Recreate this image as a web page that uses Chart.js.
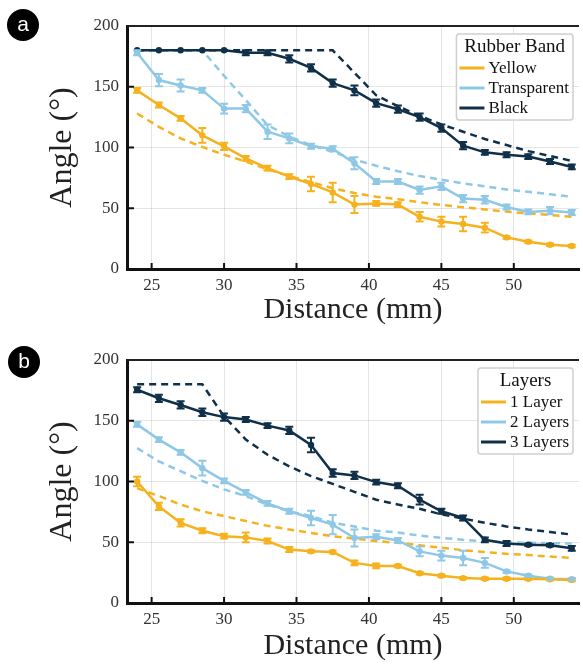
<!DOCTYPE html>
<html><head><meta charset="utf-8">
<script src="https://cdn.jsdelivr.net/npm/chart.js@4.4.0/dist/chart.umd.min.js"></script>
<style>
html,body{margin:0;padding:0;background:#fff;}
body{width:583px;height:664px;position:relative;overflow:hidden;}
#wrapA{position:absolute;left:0;top:0;width:583px;height:334px;}
#wrapB{position:absolute;left:0;top:334px;width:583px;height:330px;}
.badge{position:absolute;width:32px;height:32px;border-radius:50%;background:#000;color:#fff;font-family:"Liberation Sans",Arial,sans-serif;font-size:21px;line-height:30px;text-align:center;}
</style></head><body>
<div id="wrapA"><canvas id="cA" width="583" height="334"></canvas></div>
<div id="wrapB"><canvas id="cB" width="583" height="330"></canvas></div>
<div class="badge" style="left:7px;top:9px;">a</div>
<div class="badge" style="left:8px;top:346px;">b</div>
<script>
const distance = [24,25.5,27,28.5,30,31.5,33,34.5,36,37.5,39,40.5,42,43.5,45,46.5,48,49.5,51,52.5,54];
const xTicks = [25,30,35,40,45,50];
const yTicks = [0,50,100,150,200];

// Panel a: Rubber Band
const yellowAngle = [147,135,124,110,101,91,83,76,70,63,53,54,53,43,39,37,34,26,22.5,20,19];
const yellowErr = [2,2,2,6,3,2,2,2,6,8,7,2,2,4,4,6,4,1,1,1,1];
const yellowFit = [128,117,107.5,100.5,94,88.5,82,76.5,71.5,66.5,62.5,59.5,57.5,55,52.7,50.8,49,47.3,45.8,44.4,43];
const transparentAngle = [178,155.5,151,147,132,132,113,107.5,101,99,87,72,72,65,68,58,57,51,47,48,46.5];
const transparentErr = [2,5,5,2,4,3,6,4,2,2,5,2,2,3,3,3,3,2,2,3,2];
const transparentFit = [180,180,180,180,159,139,118.5,109,102,96.5,90,85,80.5,76.5,73.5,70.5,68,65.5,63.5,61.5,59.5];
const blackAngle = [180,180,180,180,180,178,178,173,165.5,153,147,136.5,131.5,125,116,101.5,96,94,92.5,88.5,84];
const blackErr = [0,0,0,0,0,2,2,3,3,3,4,3,3,3,3,3,2,2,2,2,2];
const blackFit = [180,180,180,180,180,180,180,180,180,180,161.5,143,134,126,119,113,107,102,97,93,89];

// Panel b: Layers
const layer1Angle = [100,79.5,66,59.5,55,54,51,44,42.5,42,33,30.5,30.5,24.5,22.5,20.5,20,20,20,19.5,19];
const layer1Err = [4,3,3,2,2,4,2,2,1,1,2,2,1,1,1,1,1,1,1,1,1];
const layer1Fit = [94.5,88,81,75.5,71.5,67.5,63.5,60.5,57.7,55,53,51,49.5,47.5,45.5,43.5,42,40.5,39.5,38.2,37.2];
const layer2Angle = [147,134.5,124,111,100.5,91,82,75.5,70,64.5,53.5,54.5,51.5,42.5,39,37,33,26,22.5,20,19.5];
const layer2Err = [2,2,2,6,2,2,2,2,6,8,7,2,2,4,4,6,4,1,1,1,1];
const layer2Fit = [127.5,116.5,108.5,100.5,93.5,88,81,75.5,71.5,66,63,59.5,58,55.5,53.6,52,50.8,50,49.5,49.2,49];
const layer3Angle = [175.5,168.5,163,157,153,151,146,142,130,107,105,99.5,96.5,85,75.5,70,52,49,48,47.5,45];
const layer3Err = [2,3,3,3,3,2,2,3,6,3,3,2,2,4,2,2,2,2,1,1,2];
const layer3Fit = [180,180,180,180,153.5,134.5,122,112.5,104.5,98,91.5,85,81,77.5,73,69.5,66,63,60.5,58.5,56.3];

const YELLOW = '#F6B21E', LBLUE = '#8EC8E6', DARK = '#10304A';
const SERIF = '"Liberation Serif","Times New Roman",serif';

const errorBarPlugin = {
  id: 'errorBars',
  afterDatasetsDraw(chart) {
    const {ctx, scales:{x, y}} = chart;
    chart.data.datasets.forEach(ds => {
      if (!ds.errors) return;
      ctx.save();
      ctx.strokeStyle = ds.borderColor; ctx.lineWidth = 2;
      ds.data.forEach((p, i) => {
        const e = ds.errors[i]; if (!e) return;
        const px = x.getPixelForValue(p.x);
        const y1 = y.getPixelForValue(p.y - e), y2 = y.getPixelForValue(p.y + e);
        ctx.beginPath();
        ctx.moveTo(px, y1); ctx.lineTo(px, y2);
        ctx.moveTo(px - 4, y1); ctx.lineTo(px + 4, y1);
        ctx.moveTo(px - 4, y2); ctx.lineTo(px + 4, y2);
        ctx.stroke();
      });
      ctx.restore();
    });
  }
};

const framePlugin = {
  id: 'frame',
  afterDraw(chart) {
    const {ctx, chartArea:a, scales:{x, y}} = chart;
    ctx.save();
    ctx.strokeStyle = '#222'; ctx.lineWidth = 2;
    ctx.beginPath(); ctx.moveTo(a.left, a.top); ctx.lineTo(a.right, a.top); ctx.stroke();
    ctx.strokeStyle = '#111'; ctx.lineWidth = 2;
    ctx.beginPath();
    xTicks.forEach(v => { const px = x.getPixelForValue(v); ctx.moveTo(px, a.bottom); ctx.lineTo(px, a.bottom - 6); });
    yTicks.slice(1, -1).forEach(v => { const py = y.getPixelForValue(v); ctx.moveTo(a.left, py); ctx.lineTo(a.left + 7, py); });
    ctx.stroke();
    ctx.restore();
  }
};

const legendPlugin = {
  id: 'boxLegend',
  afterDraw(chart, args, opts) {
    const {ctx, chartArea:a} = chart;
    const items = chart.data.datasets.filter(d => !d.isFit);
    ctx.save();
    ctx.font = '17px ' + SERIF;
    let tw = 0;
    items.forEach(d => tw = Math.max(tw, ctx.measureText(d.label).width));
    const w = 3 + 25 + 4 + tw + 4;
    const right = a.right - 6, left = right - w, top = a.top + 8, h = 86;
    ctx.fillStyle = 'rgba(255,255,255,0.85)';
    ctx.strokeStyle = '#cfcfcf'; ctx.lineWidth = 1.5;
    ctx.beginPath();
    if (ctx.roundRect) ctx.roundRect(left, top, w, h, 3); else ctx.rect(left, top, w, h);
    ctx.fill(); ctx.stroke();
    ctx.fillStyle = '#111';
    ctx.font = '19px ' + SERIF;
    ctx.textAlign = 'center'; ctx.textBaseline = 'middle';
    ctx.fillText(opts.title, left + w / 2, top + 13);
    ctx.font = '17px ' + SERIF;
    ctx.textAlign = 'left';
    items.forEach((d, i) => {
      const yy = top + 34 + i * 20;
      ctx.strokeStyle = d.borderColor; ctx.lineWidth = 3;
      ctx.beginPath(); ctx.moveTo(left + 3, yy); ctx.lineTo(left + 28, yy); ctx.stroke();
      ctx.fillStyle = '#111';
      ctx.fillText(d.label, left + 32, yy + 1);
    });
    ctx.restore();
  }
};

function pts(arr) { return arr.map((v, i) => ({x: distance[i], y: v})); }

function makeChart(id, H, series, legendTitle, xTitlePad) {
  const datasets = [];
  series.forEach(s => datasets.push({
    label: s.label, data: pts(s.vals), errors: s.err, borderColor: s.color, backgroundColor: s.color,
    borderWidth: 2.5, pointRadius: 3.2, pointBackgroundColor: s.color, pointBorderWidth: 0,
    tension: 0, order: 0
  }));
  series.forEach(s => datasets.push({
    label: s.label + ' fit', data: pts(s.fit), isFit: true, borderColor: s.color,
    borderWidth: 2.5, borderDash: [7, 5], pointRadius: 0, tension: 0, order: 1
  }));
  return new Chart(document.getElementById(id), {
    type: 'line',
    data: {datasets},
    options: {
      responsive: false, animation: false, devicePixelRatio: 1,
      layout: {padding: {top: 26, right: 0, bottom: 0, left: 0}},
      plugins: {legend: {display: false}, tooltip: {enabled: false}, boxLegend: {title: legendTitle}},
      scales: {
        x: {
          type: 'linear', min: 23.3, max: 54.5,
          afterBuildTicks: s => { s.ticks = xTicks.map(v => ({value: v})); },
          afterFit: s => { s.height = H - 269; },
          grid: {color: 'rgba(0,0,0,0.1)', lineWidth: 1, drawTicks: false},
          border: {display: true, color: '#111', width: 3},
          ticks: {font: {family: SERIF, size: 17}, color: '#333', padding: 6, maxRotation: 0},
          title: {display: true, text: 'Distance (mm)', color: '#222', font: {family: SERIF, size: 30}, padding: {top: 0, bottom: xTitlePad}}
        },
        y: {
          min: 0, max: 200,
          afterBuildTicks: s => { s.ticks = yTicks.map(v => ({value: v})); },
          afterFit: s => { s.width = 127; },
          grid: {color: 'rgba(0,0,0,0.1)', lineWidth: 1, drawTicks: false},
          border: {display: true, color: '#111', width: 3},
          ticks: {font: {family: SERIF, size: 17}, color: '#333', padding: 8},
          title: {display: true, text: 'Angle (°)', color: '#222', font: {family: SERIF, size: 32}, padding: {top: 43, bottom: 0}}
        }
      }
    },
    plugins: [errorBarPlugin, framePlugin, legendPlugin]
  });
}

makeChart('cA', 334, [
  {label: 'Yellow', vals: yellowAngle, err: yellowErr, fit: yellowFit, color: YELLOW},
  {label: 'Transparent', vals: transparentAngle, err: transparentErr, fit: transparentFit, color: LBLUE},
  {label: 'Black', vals: blackAngle, err: blackErr, fit: blackFit, color: DARK}
], 'Rubber Band', 6);

makeChart('cB', 330, [
  {label: '1 Layer', vals: layer1Angle, err: layer1Err, fit: layer1Fit, color: YELLOW},
  {label: '2 Layers', vals: layer2Angle, err: layer2Err, fit: layer2Fit, color: LBLUE},
  {label: '3 Layers', vals: layer3Angle, err: layer3Err, fit: layer3Fit, color: DARK}
], 'Layers', 0);
</script>
</body></html>
